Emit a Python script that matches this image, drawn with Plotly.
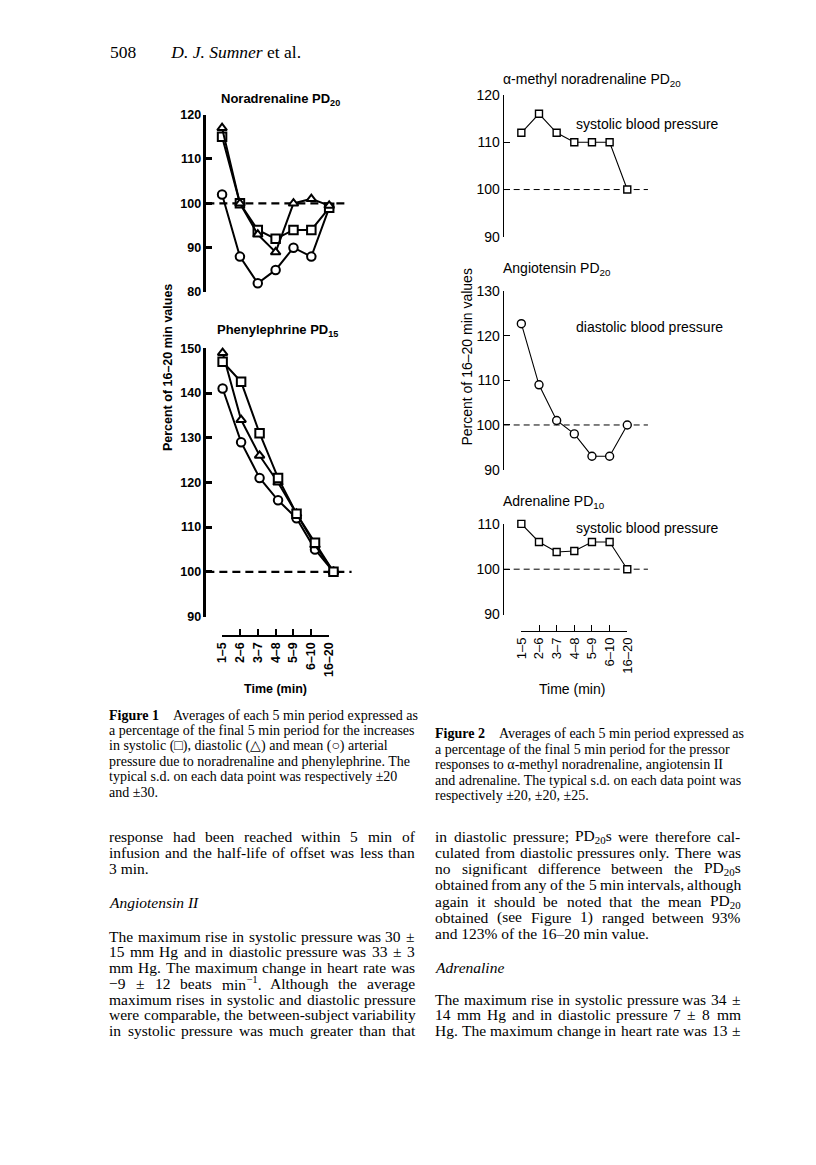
import re
import plotly.graph_objects as go

# the page body keeps an 8 px margin, so the figure is drawn 16 px smaller than the window
PAGE_W, PAGE_H, OFF = 816, 1165, 8
W, H = PAGE_W - 2 * OFF, PAGE_H - 2 * OFF

# x categories (5 min periods)
periods = ['1\u20135', '2\u20136', '3\u20137', '4\u20138', '5\u20139', '6\u201310', '16\u201320']
pos = list(range(len(periods)))

# Figure 1: noradrenaline PD20
nor_systolic = [115, 100, 94, 92, 94, 94, 99]
nor_diastolic = [117, 100, 93, 89, 100, 101, 99.5]
nor_mean = [102, 88, 82, 85, 90, 88, 99]

# Figure 1: phenylephrine PD15
phe_systolic = [147, 142.5, 131, 121, 113, 106.5, 100]
phe_diastolic = [149, 134, 126, 120, 113, 106, 100]
phe_mean = [141, 129, 121, 116, 112, 105, 100]

# Figure 2
amn_systolic = [112, 116, 112, 110, 110, 110, 100]
ang_diastolic = [122.7, 109, 101, 98, 93, 93, 100]
adr_systolic = [110, 106, 103.8, 104, 106, 106, 100]

# Times-Roman widths (1/1000 em) for rough justification of body text
TIMES = {' ': 250, '%': 833, '(': 333, ')': 333, ',': 250, '-': 333, '.': 250, ';': 278, ':': 278,
         '\u2013': 500, '\u2212': 564, '\u00b1': 564}
TIMES.update({c: 500 for c in '0123456789'})
TIMES.update(dict(zip('ABCDEFGHIJKLMNOPQRSTUVWXYZ',
                      [722, 667, 667, 722, 611, 556, 722, 722, 333, 389, 722, 611, 889,
                       722, 722, 556, 722, 667, 556, 611, 722, 722, 944, 722, 722, 611])))
TIMES.update(dict(zip('abcdefghijklmnopqrstuvwxyz',
                      [444, 500, 444, 500, 444, 333, 500, 500, 278, 278, 500, 278, 778,
                       500, 500, 500, 500, 333, 389, 278, 500, 500, 722, 500, 500, 444])))


def px(x):
    return (x - OFF) / W


def py(y):
    return 1 - (y - OFF) / H


def ann(x, y, text, size, family='Liberation Sans', xanchor='left', weight='normal', angle=0):
    return dict(x=px(x), y=py(y), xref='paper', yref='paper', text=text, showarrow=False,
                xanchor=xanchor, yanchor='middle', textangle=angle, borderpad=0,
                font=dict(family=family, size=size, color='black', weight=weight))


def text_width(word, size):
    plain = re.sub(r'<su[bp]>(.*?)</su[bp]>', lambda m: '\x00' * len(m.group(1)), word)
    plain = re.sub(r'<.*?>', '', plain)
    units = sum(350 if ch == '\x00' else TIMES.get(ch, 500) for ch in plain)
    return units * size / 1000


def body_line(x0, x1, y, line, size=15.5, justify=True):
    if not justify:
        return [ann(x0, y, line, size, family='Liberation Serif')]
    words = line.split(' ')
    widths = [text_width(w, size) for w in words]
    gap = (x1 - x0 - sum(widths)) / (len(words) - 1)
    out, x = [], x0
    for w, wd in zip(words, widths):
        out.append(ann(x, y, w, size, family='Liberation Serif'))
        x += wd + gap
    return out


fig = go.Figure()

# ---- Figure 2 panels (right) ----
fig2_panels = [(1, amn_systolic, 'square'), (2, ang_diastolic, 'circle'), (3, adr_systolic, 'square')]
for n, vals, sym in fig2_panels:
    fig.add_trace(go.Scatter(x=pos, y=vals, xaxis=f'x{n}', yaxis=f'y{n}', mode='lines+markers',
                             line=dict(color='black', width=1.1), cliponaxis=False,
                             marker=dict(symbol=sym, size=7 if sym == 'square' else 8, color='white',
                                         line=dict(color='black', width=1.4))))

# ---- Figure 1 panels (left) ----
for n, series in [(5, [nor_mean, nor_systolic, nor_diastolic]), (6, [phe_mean, phe_diastolic, phe_systolic])]:
    syms = {0: 'circle', 1: 'square', 2: 'triangle-up'}
    if n == 6:
        syms = {0: 'circle', 1: 'triangle-up', 2: 'square'}
    for k, vals in enumerate(series):
        fig.add_trace(go.Scatter(x=pos, y=vals, xaxis=f'x{n}', yaxis=f'y{n}', mode='lines+markers',
                                 line=dict(color='black', width=2), cliponaxis=False,
                                 marker=dict(symbol=syms[k], size=8.5, color='white',
                                             line=dict(color='black', width=2))))

# invisible traces so the separate time axes get drawn
fig.add_trace(go.Scatter(x=pos, y=adr_systolic, xaxis='x4', yaxis='y3', mode='markers',
                         marker=dict(opacity=0), hoverinfo='skip'))
fig.add_trace(go.Scatter(x=pos, y=phe_mean, xaxis='x7', yaxis='y6', mode='markers',
                         marker=dict(opacity=0), hoverinfo='skip'))


def yax(dom, rng, step, anchor, size, width, weight='normal'):
    return dict(domain=[py(dom[0]), py(dom[1])], range=rng, anchor=anchor,
                tickvals=list(range(rng[0], rng[1] + 1, step)), ticks='inside', ticklen=6,
                tickwidth=width, tickcolor='black', showline=True, linecolor='black', linewidth=width,
                showgrid=False, zeroline=False,
                tickfont=dict(family='Liberation Sans', size=size, color='black', weight=weight))


def xhidden(dom, rng):
    return dict(domain=[px(dom[0]), px(dom[1])], range=rng, visible=False, showgrid=False)


def xtime(dom, ypos, size, width, weight='normal'):
    return dict(domain=[px(dom[0]), px(dom[1])], range=[0, 6], anchor='free', position=py(ypos),
                tickvals=pos, ticktext=periods, tickangle=-90, ticks='inside',
                ticklen=6, tickwidth=width, tickcolor='black', showline=True, linecolor='black',
                linewidth=width, showgrid=False, zeroline=False,
                tickfont=dict(family='Liberation Sans', size=size, color='black', weight=weight))


x2rng = [-1.0, 7.17]
x1rng = [-0.88, 6.98]
fig.update_layout(
    width=W, height=H, margin=dict(l=0, r=0, t=0, b=0),
    paper_bgcolor='white', plot_bgcolor='rgba(0,0,0,0)', showlegend=False,
    xaxis=xhidden((505, 652), x2rng), yaxis=yax((232, 88), [90, 120], 10, 'x', 14, 1.2),
    xaxis2=xhidden((505, 652), x2rng), yaxis2=yax((468, 287), [90, 130], 10, 'x2', 14, 1.2),
    xaxis3=xhidden((505, 652), x2rng), yaxis3=yax((615, 523), [90, 110], 10, 'x3', 14, 1.2),
    xaxis4=xtime((523, 631), 632, 13, 1.2),
    xaxis5=xhidden((202, 345), x1rng), yaxis5=yax((288, 108), [80, 120], 10, 'x5', 12.5, 2.5, 'bold'),
    xaxis6=xhidden((202, 350), x1rng), yaxis6=yax((617, 345), [90, 150], 10, 'x6', 12.5, 2.5, 'bold'),
    xaxis7=xtime((218, 327), 637, 12.5, 2, 'bold'),
)

# reference lines at 100 %
for n, width, dash in [('', 1, '6px,4px'), ('2', 1, '6px,4px'), ('3', 1, '6px,4px'),
                       ('5', 2.2, '8px,5px'), ('6', 2.2, '8px,5px')]:
    fig.add_shape(type='line', xref=f'x{n} domain', yref=f'y{n}', x0=0, x1=1, y0=100, y1=100,
                  layer='below', line=dict(color='black', width=width, dash=dash))

annotations = [
    ann(103, 45, '508\u2003\u2003<i>D. J. Sumner</i> et al.', 17.5, family='Liberation Serif'),
    # Figure 2 texts
    ann(503, 73, '\u03b1-methyl noradrenaline PD<sub>20</sub>', 14),
    ann(578, 118, 'systolic blood pressure', 14),
    ann(503, 265, 'Angiotensin PD<sub>20</sub>', 14),
    ann(578, 323, 'diastolic blood pressure', 14),
    ann(503, 501, 'Adrenaline PD<sub>10</sub>', 14),
    ann(578, 527, 'systolic blood pressure', 14),
    ann(468, 354, 'Percent of 16\u201320 min values', 14, xanchor='center', angle=-90),
    ann(575, 691, 'Time (min)', 14, xanchor='center'),
    # Figure 1 texts
    ann(278, 93, 'Noradrenaline PD<sub>20</sub>', 13, xanchor='center', weight='bold'),
    ann(275, 327, 'Phenylephrine PD<sub>15</sub>', 13, xanchor='center', weight='bold'),
    ann(163, 365, 'Percent of 16\u201320 min values', 12.5, xanchor='center', weight='bold', angle=-90),
    ann(272, 690, 'Time (min)', 12.5, xanchor='center', weight='bold'),
]

cap1 = ['<b>Figure 1</b>\u2003Averages of each 5 min period expressed as',
        'a percentage of the final 5 min period for the increases',
        'in systolic (\u25a1), diastolic (\u25b3) and mean (\u25cb) arterial',
        'pressure due to noradrenaline and phenylephrine. The',
        'typical s.d. on each data point was respectively \u00b120',
        'and \u00b130.']
cap2 = ['<b>Figure 2</b>\u2003Averages of each 5 min period expressed as',
        'a percentage of the final 5 min period for the pressor',
        'responses to \u03b1-methyl noradrenaline, angiotensin II',
        'and adrenaline. The typical s.d. on each data point was',
        'respectively \u00b120, \u00b120, \u00b125.']
for i, line in enumerate(cap1):
    annotations.append(ann(102, 717 + 15.6 * i, line, 14, family='Liberation Serif'))
for i, line in enumerate(cap2):
    annotations.append(ann(434, 736 + 15.6 * i, line, 14, family='Liberation Serif'))

left_col = [
    (840, 'response had been reached within 5 min of', True),
    (856, 'infusion and the half-life of offset was less than', True),
    (873, '3 min.', False),
    (907, '<i>Angiotensin II</i>', False),
    (941, 'The maximum rise in systolic pressure was 30 \u00b1', True),
    (957, '15 mm Hg and in diastolic pressure was 33 \u00b1 3', True),
    (973, 'mm Hg. The maximum change in heart rate was', True),
    (989, '\u22129 \u00b1 12 beats min<sup>\u22121</sup>. Although the average', True),
    (1005, 'maximum rises in systolic and diastolic pressure', True),
    (1021, 'were comparable, the between-subject variability', True),
    (1037, 'in systolic pressure was much greater than that', True),
]
right_col = [
    (840, 'in diastolic pressure; PD<sub>20</sub>s were therefore cal-', True),
    (856, 'culated from diastolic pressures only. There was', True),
    (873, 'no significant difference between the PD<sub>20</sub>s', True),
    (889, 'obtained from any of the 5 min intervals, although', True),
    (906, 'again it should be noted that the mean PD<sub>20</sub>', True),
    (922, 'obtained (see Figure 1) ranged between 93%', True),
    (938, 'and 123% of the 16\u201320 min value.', False),
    (973, '<i>Adrenaline</i>', False),
    (1005, 'The maximum rise in systolic pressure was 34 \u00b1', True),
    (1021, '14 mm Hg and in diastolic pressure 7 \u00b1 8 mm', True),
    (1037, 'Hg. The maximum change in heart rate was 13 \u00b1', True),
]
for y, line, just in left_col:
    annotations += body_line(102, 413, y, line, justify=just)
for y, line, just in right_col:
    annotations += body_line(434, 745, y, line, justify=just)

fig.update_layout(annotations=annotations)
fig.write_html('out.html')
